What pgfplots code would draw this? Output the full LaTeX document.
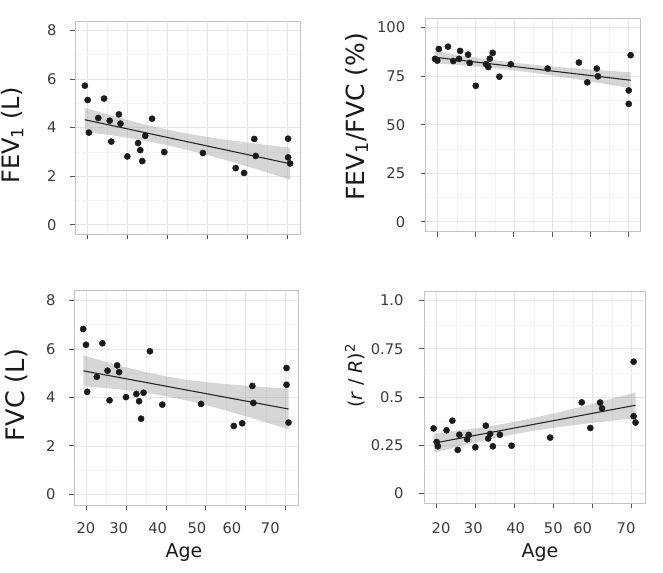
\documentclass[border=0pt]{standalone}
\usepackage{fontspec}
\setmainfont{DejaVu Sans}
\usepackage{pgfplots}
\pgfplotsset{compat=1.18}
\definecolor{gridmaj}{HTML}{E6E6E6}
\definecolor{gridmin}{HTML}{F3F3F3}
\definecolor{bordc}{HTML}{C4C4C4}
\definecolor{tickc}{HTML}{555555}
\definecolor{labc}{HTML}{3A3A3A}
\definecolor{ribbon}{HTML}{999999}
\definecolor{ptc}{HTML}{1A1A1A}
\pgfplotsset{
 panel/.style={
  scale only axis,
  axis line style={bordc, line width=0.8bp},
  tick pos=left,
  tick align=outside,
  major tick length=5bp,
  minor tick length=0pt,
  every tick/.style={tickc, line width=0.7bp},
  minor tick num=1,
  grid=both,
  major grid style={gridmaj, line width=0.6bp},
  minor grid style={gridmin, line width=0.4bp},
  tick label style={font=\fontsize{14.7bp}{17bp}\selectfont, text=labc},
  yticklabel style={xshift=-10bp},
  /pgf/number format/assume math mode=true,
  xtick={20,30,40,50,60,70},
  xticklabels={},
 },
 pts/.style={only marks, mark=*, mark size=3.1bp, mark options={draw=ptc, fill=ptc}},
 band/.style={fill=ribbon, fill opacity=0.4, draw=none, forget plot},
 fitl/.style={no marks, line width=1.1bp, color=black!85},
}
\begin{document}
\begin{tikzpicture}
\useasboundingbox (0,0) rectangle (663bp,573bp);
% Panel 1: FEV1
\begin{axis}[panel, at={(75bp,339bp)}, anchor=south west, width=225bp, height=213bp,
 xmin=16.93, xmax=73.18, ymin=-0.38, ymax=8.38, ytick={0,2,4,6,8}]
\addplot[pts] coordinates {
(19.4,5.72) (20.1,5.13) (20.4,3.79) (22.75,4.39) (24.2,5.19) (25.6,4.28) (26.0,3.42) (27.9,4.54)
(28.3,4.16) (30.0,2.81) (32.7,3.36) (33.25,3.07) (33.75,2.62) (34.5,3.66) (36.2,4.36) (39.25,2.99)
(48.9,2.95) (57.1,2.33) (59.2,2.13) (61.75,3.53) (62.1,2.83) (70.2,3.54) (70.2,2.77) (70.7,2.52)};
\addplot[band] coordinates {
(19.35,4.81) (25,4.54) (30,4.31) (35,4.10) (40,3.91) (45,3.75) (50,3.61) (55,3.49) (60,3.38) (65,3.28) (70.7,3.17)
(70.7,1.85) (65,2.15) (60,2.40) (55,2.64) (50,2.87) (45,3.08) (40,3.27) (35,3.44) (30,3.58) (25,3.70) (19.35,3.82)};
\addplot[fitl] coordinates {(19.35,4.32) (70.7,2.51)};
\end{axis}
% Panel 2: FEV1/FVC
\begin{axis}[panel, at={(425.7bp,341.3bp)}, anchor=south west, width=215bp, height=213.4bp,
 xmin=16.85, xmax=73.34, ymin=-5.15, ymax=104.8, ytick={0,25,50,75,100},
 yticklabel style={xshift=-2bp}]
\addplot[pts] coordinates {
(19.3,83.9) (20.3,89.0) (19.9,83.0) (22.7,90.2) (24.1,82.8) (25.6,83.9) (25.9,88.0) (28.0,86.1)
(28.4,81.8) (30.0,70.0) (32.7,81.2) (33.3,79.7) (33.7,84.0) (34.45,87.0) (36.2,74.7) (39.2,81.1)
(48.9,78.9) (57.1,82.0) (59.3,71.8) (61.8,78.9) (62.1,74.9) (70.2,67.6) (70.2,60.7) (70.7,85.8)};
\addplot[band] coordinates {
(19.35,87.79) (25,86.03) (30,84.55) (35,83.18) (40,81.95) (45,80.89) (50,79.97) (55,79.17) (60,78.43) (65,77.74) (70.7,76.99)
(70.7,68.79) (65,70.66) (60,72.27) (55,73.83) (50,75.33) (45,76.71) (40,77.95) (35,79.02) (30,79.95) (25,80.77) (19.35,81.61)};
\addplot[fitl] coordinates {(19.35,84.7) (70.7,72.89)};
\end{axis}
% Panel 3: FVC
\begin{axis}[panel, at={(74bp,68bp)}, anchor=south west, width=224.7bp, height=214.3bp,
 xmin=17.0, xmax=73.25, ymin=-0.44, ymax=8.40, ytick={0,2,4,6,8}]
\addplot[pts] coordinates {
(19.3,6.82) (20.0,6.17) (20.3,4.23) (22.7,4.85) (24.1,6.23) (25.4,5.10) (25.9,3.88) (27.8,5.32)
(28.3,5.04) (30.0,4.01) (32.6,4.14) (33.3,3.84) (33.8,3.12) (34.4,4.19) (36.0,5.90) (39.1,3.70)
(48.8,3.73) (57.0,2.82) (59.1,2.93) (61.65,4.47) (61.9,3.77) (70.2,5.21) (70.2,4.52) (70.7,2.96)};
\addplot[band] coordinates {
(19.35,5.73) (25,5.46) (30,5.24) (35,5.04) (40,4.87) (45,4.73) (50,4.63) (55,4.55) (60,4.48) (65,4.42) (70.7,4.36)
(70.7,2.68) (65,2.97) (60,3.22) (55,3.46) (50,3.68) (45,3.88) (40,4.05) (35,4.19) (30,4.30) (25,4.38) (19.35,4.46)};
\addplot[fitl] coordinates {(19.35,5.095) (70.7,3.52)};
\end{axis}
% Panel 4: (r/R)^2
\begin{axis}[panel, at={(424bp,69.7bp)}, anchor=south west, width=221.7bp, height=212.3bp,
 xmin=16.74, xmax=73.6, ymin=-0.052, ymax=1.05, ytick={0,0.25,0.5,0.75,1}, yticklabels={0,0.25,0.5,0.75,1.0},
 yticklabel style={xshift=-2bp}]
\addplot[pts] coordinates {
(19.2,0.337) (20.0,0.266) (20.3,0.244) (22.5,0.327) (24.0,0.377) (25.4,0.225) (25.8,0.304) (27.8,0.280)
(28.2,0.303) (29.9,0.239) (32.6,0.351) (33.2,0.284) (33.7,0.308) (34.4,0.244) (36.2,0.304) (39.2,0.247)
(49.1,0.289) (57.2,0.472) (59.4,0.339) (61.9,0.471) (62.4,0.441) (70.5,0.400) (70.5,0.683) (71.0,0.367)};
\addplot[band] coordinates {
(19.35,0.310) (25,0.324) (30,0.338) (35,0.353) (40,0.371) (45,0.392) (50,0.414) (55,0.439) (60,0.464) (65,0.491) (71.0,0.523)
(71.0,0.390) (65,0.377) (60,0.366) (55,0.353) (50,0.340) (45,0.325) (40,0.307) (35,0.287) (30,0.264) (25,0.240) (19.35,0.211)};
\addplot[fitl] coordinates {(19.35,0.2605) (71.0,0.457)};
\end{axis}
% axis titles
\node[rotate=90, font=\fontsize{24bp}{28bp}\selectfont, text=black!90] at (12.5bp,437.5bp) {FEV\textsubscript{1} (L)};
\node[rotate=90, font=\fontsize{25bp}{29bp}\selectfont, text=black!90] at (356.7bp,456.3bp) {FEV\textsubscript{1}/FVC (\%)};
\node[rotate=90, font=\fontsize{25.5bp}{29bp}\selectfont, text=black!90] at (16.7bp,178bp) {FVC (L)};
\node[rotate=90, font=\fontsize{19bp}{23bp}\selectfont, text=black!90] at (355bp,197.2bp) {(\textit{r} / \textit{R})\textsuperscript{2}};
% x tick labels (as placed in the original)
\foreach \xx/\lab in {86/20, 118.7/30, 157.7/40, 197/50, 232/60, 270.3/70}
  \node[font=\fontsize{14.7bp}{17bp}\selectfont, text=labc] at (\xx bp,44.7bp) {\lab};
\foreach \xx/\lab in {441/20, 473.3/30, 515.7/40, 553.3/50, 582.7/60, 626/70}
  \node[font=\fontsize{14.7bp}{17bp}\selectfont, text=labc] at (\xx bp,44.7bp) {\lab};
\node[font=\fontsize{19bp}{22bp}\selectfont, text=black!90] at (184bp,20bp) {Age};
\node[font=\fontsize{19bp}{22bp}\selectfont, text=black!90] at (540bp,20bp) {Age};
\end{tikzpicture}
\end{document}
